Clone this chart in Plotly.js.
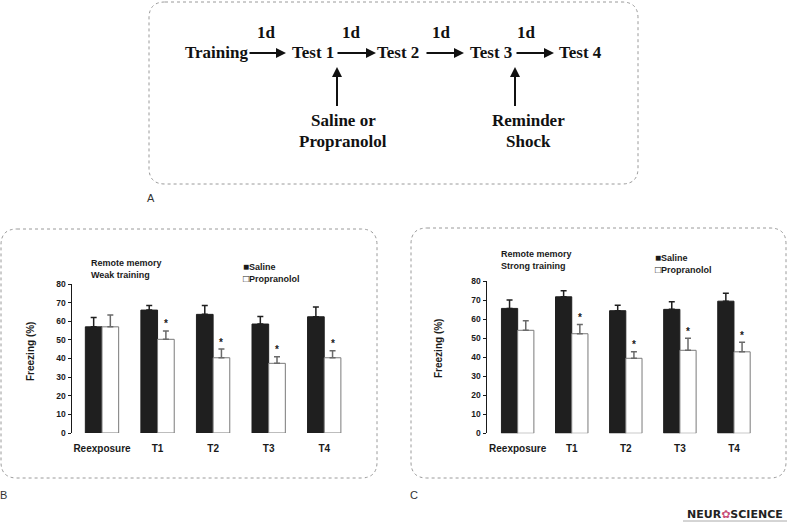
<!DOCTYPE html>
<html>
<head>
<meta charset="utf-8">
<script src="https://cdn.plot.ly/plotly-3.0.1.min.js"></script>
<style>
  html, body { margin: 0; padding: 0; background: #fff; }
  #chart { width: 788px; height: 523px; }
</style>
</head>
<body>
<div id="chart"></div>
<script>
// values (freezing %, mean and SEM)
const categories = ['Reexposure', 'T1', 'T2', 'T3', 'T4'];

const weakSaline      = [57.0, 66.0, 63.7, 58.5, 62.4];
const weakSalineErr   = [5.0, 2.5, 4.7, 4.0, 5.3];
const weakProp        = [57.0, 50.3, 40.4, 37.4, 40.4];
const weakPropErr     = [6.3, 4.5, 4.7, 3.6, 3.8];
const weakSig         = [false, true, true, true, true];

const strongSaline    = [65.6, 71.7, 64.4, 65.1, 69.4];
const strongSalineErr = [4.4, 3.2, 2.9, 4.0, 4.1];
const strongProp      = [54.1, 52.3, 39.4, 43.6, 42.8];
const strongPropErr   = [5.0, 4.9, 3.4, 6.3, 5.0];
const strongSig       = [false, true, true, true, true];

const yTicks = [0, 10, 20, 30, 40, 50, 60, 70, 80];

const W = 788, H = 523;
const px = x => x / W;
const py = y => 1 - y / H;

const SANS = 'Liberation Sans, Arial, sans-serif';
const SERIF = 'Liberation Serif, Times New Roman, serif';
const BARGAP = 0.4;

function bars(name, y, err, xa, ya, dark) {
  return {
    type: 'bar', name, x: categories, y, xaxis: xa, yaxis: ya, showlegend: false,
    marker: { color: dark ? '#1f1f1f' : '#ffffff', line: { color: dark ? '#1f1f1f' : '#7a7a7a', width: 1 } },
    error_y: { type: 'data', symmetric: false, array: err, arrayminus: [],
               color: dark ? '#1f1f1f' : '#6a6a6a', thickness: 1.5, width: 3 },
    hoverinfo: 'skip'
  };
}

// rounded dotted frame, pixel coords -> paper
function frame(x0, y0, x1, y1, r) {
  const P = (x, y) => `${px(x)},${py(y)}`;
  return {
    type: 'path', xref: 'paper', yref: 'paper',
    path: `M ${P(x0 + r, y0)} L ${P(x1 - r, y0)} Q ${P(x1, y0)} ${P(x1, y0 + r)} ` +
          `L ${P(x1, y1 - r)} Q ${P(x1, y1)} ${P(x1 - r, y1)} L ${P(x0 + r, y1)} ` +
          `Q ${P(x0, y1)} ${P(x0, y1 - r)} L ${P(x0, y0 + r)} Q ${P(x0, y0)} ${P(x0 + r, y0)} Z`,
    line: { color: '#9a9a9a', width: 1, dash: 'dot' }
  };
}

function label(text, x, y, font, opts) {
  return Object.assign({ text, x: px(x), y: py(y), xref: 'paper', yref: 'paper',
    showarrow: false, xanchor: 'center', yanchor: 'middle', font }, opts || {});
}

function arrow(xh, yh, ax, ay) {
  return { text: ' ', x: px(xh), y: py(yh), xref: 'paper', yref: 'paper', showarrow: true,
    ax, ay, arrowhead: 2, arrowsize: 1, arrowwidth: 2, arrowcolor: '#111', standoff: 0,
    font: { size: 1 } };
}

function stars(prop, err, sig, xa, ya) {
  const off = (1 - BARGAP) / 4;
  return prop.map((v, i) => sig[i] ? {
    text: '*', x: i + off, y: v + err[i], xref: xa, yref: ya, showarrow: false,
    yanchor: 'middle', yshift: 7, font: { family: SANS, size: 10, color: '#1a1a1a', weight: 'bold' }
  } : null).filter(a => a);
}

const serif = { family: SERIF, size: 17, color: '#111', weight: 'bold' };
const small = { family: SANS, size: 9, color: '#1a1a1a', weight: 'bold' };
const ytitle = { family: SANS, size: 10, color: '#1a1a1a', weight: 'bold' };
const legendText = '<span style="font-size:10px">■</span>Saline<br><span style="font-size:10px">□</span>Propranolol';

const annotations = [
  // panel A: timeline
  label('1d', 266, 32, serif), label('1d', 351, 32, serif),
  label('1d', 441, 32, serif), label('1d', 526, 32, serif),
  label('Training', 216, 52, serif), label('Test 1', 313, 52, serif),
  label('Test 2', 398, 52, serif), label('Test 3', 491, 52, serif),
  label('Test 4', 580, 52, serif),
  arrow(286, 53, -38, 0), arrow(376, 53, -40, 0), arrow(464, 53, -39, 0), arrow(554, 53, -39, 0),
  arrow(337, 67, 0, 41), arrow(515, 67, 0, 41),
  label('Saline or', 343, 121, serif), label('Propranolol', 343, 141, serif),
  label('Reminder', 528, 121, serif), label('Shock', 528, 141, serif),
  label('A', 151, 198, { family: SANS, size: 11, color: '#333' }),
  label('B', 4, 495, { family: SANS, size: 11, color: '#333' }),
  label('C', 414, 495, { family: SANS, size: 11, color: '#333' }),
  // panel B texts
  label('Remote memory<br>Weak training', 89, 269, small, { xanchor: 'left', align: 'left' }),
  label(legendText, 241, 272, small, { xanchor: 'left', align: 'left' }),
  label('Freezing (%)', 30, 352, ytitle, { textangle: -90 }),
  // panel C texts
  label('Remote memory<br>Strong training', 499, 260, small, { xanchor: 'left', align: 'left' }),
  label(legendText, 653, 263, small, { xanchor: 'left', align: 'left' }),
  label('Freezing (%)', 438, 348, ytitle, { textangle: -90 }),
  // logo
  label('NEUR<span style="color:#c8507a">✿</span>SCIENCE', 735, 514,
        { family: 'DejaVu Sans, sans-serif', size: 11, color: '#222', weight: 'bold' }),
  ...stars(weakProp, weakPropErr, weakSig, 'x', 'y'),
  ...stars(strongProp, strongPropErr, strongSig, 'x2', 'y2')
];

const shapes = [
  frame(149, 2, 638, 184, 16),
  frame(1, 229, 377, 478, 16),
  frame(411, 228, 786, 478, 16),
  { type: 'line', xref: 'paper', yref: 'paper', x0: px(683), x1: px(787), y0: py(521), y1: py(521),
    line: { color: '#aaa', width: 1 } }
];

const xax = (d0, d1, r0) => ({
  domain: [px(d0), px(d1)], range: [r0, 4.5], type: 'category', showline: false, ticks: '',
  showgrid: false, zeroline: false, fixedrange: true, ticklabelstandoff: 8,
  tickfont: { family: SANS, size: 10, color: '#1a1a1a', weight: 'bold' }
});
const yax = (top, bottom, anchor) => ({
  domain: [py(bottom), py(top)], range: [0, 80], tickvals: yTicks, anchor,
  showline: true, linecolor: '#1a1a1a', linewidth: 1.5, ticks: 'outside', ticklen: 3,
  tickcolor: '#1a1a1a', tickwidth: 1, showgrid: false, zeroline: false, fixedrange: true,
  tickfont: { family: SANS, size: 8.5, color: '#1a1a1a', weight: 'bold' }
});

const data = [
  bars('Saline', weakSaline, weakSalineErr, 'x', 'y', true),
  bars('Propranolol', weakProp, weakPropErr, 'x', 'y', false),
  bars('Saline', strongSaline, strongSalineErr, 'x2', 'y2', true),
  bars('Propranolol', strongProp, strongPropErr, 'x2', 'y2', false)
];

const layout = {
  width: W, height: H, margin: { l: 0, r: 0, t: 0, b: 0 },
  paper_bgcolor: '#fff', plot_bgcolor: 'rgba(0,0,0,0)',
  barmode: 'group', bargap: BARGAP, bargroupgap: 0, showlegend: false,
  xaxis: Object.assign(xax(72, 352, -0.54), { anchor: 'y' }),
  yaxis: yax(284, 433, 'x'),
  xaxis2: Object.assign(xax(487, 761, -0.567), { anchor: 'y2' }),
  yaxis2: yax(281, 433.3, 'x2'),
  annotations, shapes
};

Plotly.newPlot('chart', data, layout, { displayModeBar: false, staticPlot: true });
</script>
</body>
</html>
